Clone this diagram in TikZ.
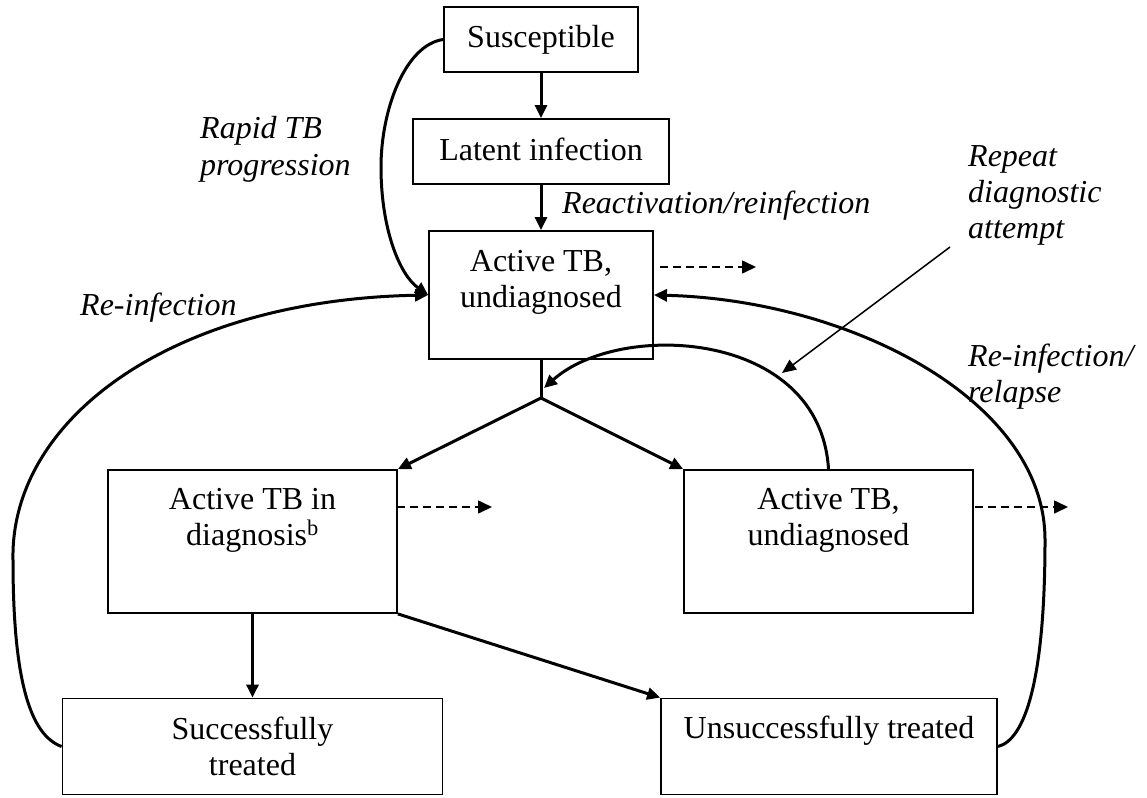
\documentclass[tikz,border=0pt]{standalone}
\usepackage{fontspec}
\setmainfont{Liberation Serif}
\usetikzlibrary{arrows.meta,calc}
\begin{document}
\begin{tikzpicture}[x=1pt,y=-1pt,
  box/.style={draw,line width=1.8pt,inner sep=0pt,rectangle},
  txt/.style={inner sep=0pt,font=\fontsize{32}{36}\selectfont,align=center,anchor=base},
  lbl/.style={inner sep=0pt,font=\fontsize{32}{36}\selectfont\itshape,align=left,anchor=base west},
  flow/.style={line width=3pt,-{Triangle[length=13pt,width=12pt]}},
  plainline/.style={line width=3pt},
  dashedarrow/.style={line width=1.6pt,dash pattern=on 8pt off 5pt,-{Triangle[length=14pt,width=13pt]}},
  pointer/.style={line width=1.5pt,-{Triangle[length=14pt,width=12pt]}}
]
\path[use as bounding box] (0,0) rectangle (1147,797);

% boxes
\node[box,minimum width=194pt,minimum height=65pt] (susc) at (541,39.5) {};
\node[box,minimum width=256pt,minimum height=65pt] (lat) at (541,151.5) {};
\node[box,minimum width=224pt,minimum height=128pt] (act1) at (541,295) {};
\node[box,minimum width=289pt,minimum height=143pt] (diag) at (252.5,541.5) {};
\node[box,minimum width=289pt,minimum height=143pt] (undiag) at (828.5,541.5) {};
\node[box,minimum width=380pt,minimum height=96pt] (succ) at (252.5,746.5) {};
\node[box,minimum width=336pt,minimum height=96pt] (unsucc) at (829,746.5) {};

% box texts (base anchor = last line)
\node[txt] (tsusc) at (541,48) {Susceptible};
\node[txt] (tlat) at (541,160) {Latent infection};
\node[txt] (tact1) at (541,307) {Active TB,\\undiagnosed};
\node[txt] (tdiag) at (252.5,545) {Active TB in\\diagnosis\textsuperscript{b}};
\node[txt] (tundiag) at (828.5,545) {Active TB,\\undiagnosed};
\node[txt] (tsucc) at (252.5,775) {Successfully\\treated};
\node[txt] (tunsucc) at (829,738) {Unsuccessfully treated};

% labels
\node[lbl] (lrapid) at (200,175) {Rapid TB\\progression};
\node[lbl] (lreinf) at (80,315) {Re-infection};
\node[lbl] (lreact) at (562,213) {Reactivation/reinfection};
\node[lbl] (lrepeat) at (968,238) {Repeat\\diagnostic\\attempt};
\node[lbl] (lrelapse) at (968,402) {Re-infection/\\relapse};

% coordinates
\coordinate (split) at (541,398);
\coordinate (reptip) at (544,388);
\coordinate (ptrstart) at (950,247);
\coordinate (ptrtip) at (782,373);
\coordinate (d1s) at (660,267);
\coordinate (d1e) at (756,267);
\coordinate (d2s) at (397,507);
\coordinate (d2e) at (492,507);
\coordinate (d3s) at (975,507);
\coordinate (d3e) at (1068,507);

% straight flows
\draw[flow] (susc.south) -- (lat.north);
\draw[flow] (lat.south) -- (act1.north);
\draw[plainline] (act1.south) -- (split);
\draw[flow] (split) -- (diag.north east);
\draw[flow] (split) -- (undiag.north west);
\draw[flow] (diag.south) -- (succ.north);
\draw[flow] (diag.south east) -- (unsucc.north west);

% curved flows
\draw[flow] (susc.west) .. controls (405,45) and (381,110) .. (381,167)
  .. controls (381,230) and (400,275) .. (act1.west);
\draw[flow] (succ.west) .. controls (30,735) and (13,680) .. (13,560)
  .. controls (10,420) and (170,300) .. (act1.west);
\draw[flow] (unsucc.east) .. controls (1025,740) and (1045,680) .. (1045,540)
  .. controls (1045,400) and (850,300) .. (act1.east);
\draw[flow] (undiag.north) .. controls (820,330) and (620,320) .. (reptip);

% pointer
\draw[pointer] (ptrstart) -- (ptrtip);

% dashed exits
\draw[dashedarrow] (d1s) -- (d1e);
\draw[dashedarrow] (d2s) -- (d2e);
\draw[dashedarrow] (d3s) -- (d3e);
\end{tikzpicture}
\end{document}
